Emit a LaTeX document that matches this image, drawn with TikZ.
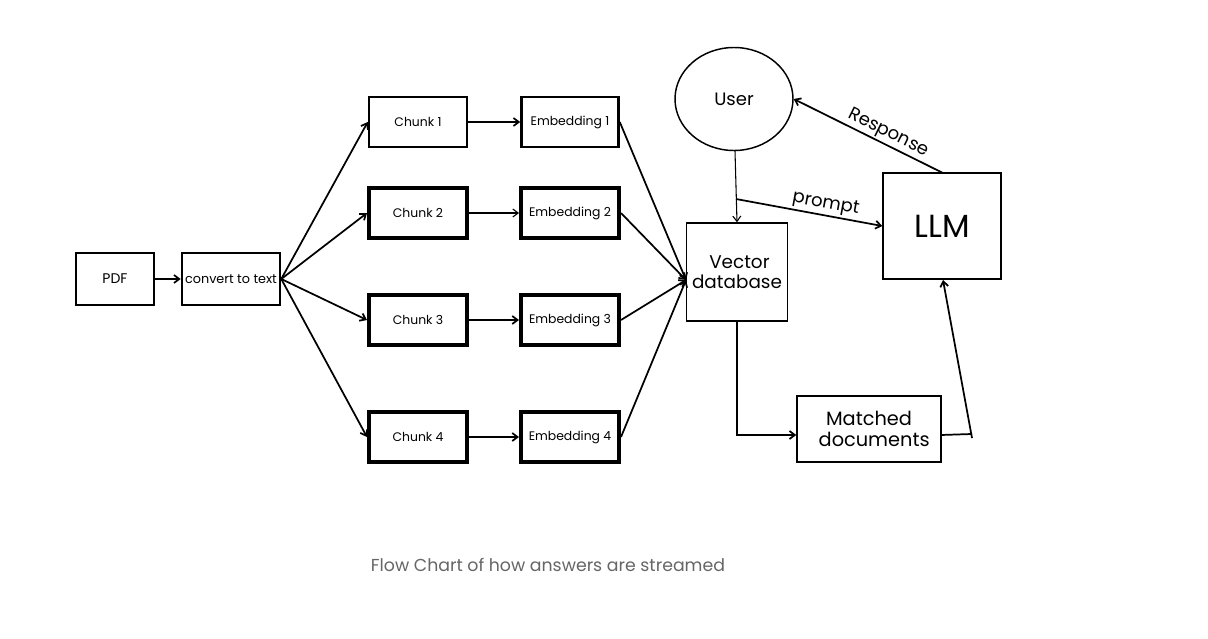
\documentclass[tikz,border=0pt]{standalone}
\usepackage{fontspec}
\setmainfont{Poppins}
\usetikzlibrary{arrows.meta,shapes.geometric}
\begin{document}
\begin{tikzpicture}[x=0.75pt,y=-0.75pt,
  box/.style={draw, line width=1.1pt, inner sep=0pt, font=\fontsize{9.3}{11}\selectfont},
  medbox/.style={box, line width=1.9pt},
  thickbox/.style={box, line width=3pt},
  conn/.style={line width=1.3pt, -{Straight Barb[length=4pt,width=6pt]}},
  thinconn/.style={line width=0.8pt, -{Straight Barb[length=4pt,width=6pt]}},
  lbl/.style={font=\fontsize{13.5}{15}\selectfont, inner sep=0pt, outer sep=2pt}
]
\useasboundingbox (0,0) rectangle (1208,639);
\fill[white] (0,0) rectangle (1208,639);

\node[box, minimum width=78*0.75pt, minimum height=52*0.75pt, font=\fontsize{10.5}{12}\selectfont] (pdf) at (115,279) {PDF};
\node[medbox, minimum width=98*0.75pt, minimum height=52*0.75pt, font=\fontsize{9.6}{11}\selectfont] (conv) at (231,279) {convert to text};

\node[medbox, minimum width=98*0.75pt, minimum height=50*0.75pt] (c1) at (418,122) {Chunk 1};
\node[medbox, minimum width=97*0.75pt, minimum height=50*0.75pt] (e1) at (570,122) {Embedding 1};
\node[thickbox, minimum width=98*0.75pt, minimum height=50*0.75pt] (c2) at (418,213) {Chunk 2};
\node[thickbox, minimum width=98*0.75pt, minimum height=50*0.75pt] (e2) at (570,213) {Embedding 2};
\node[thickbox, minimum width=98*0.75pt, minimum height=50*0.75pt] (c3) at (418,320) {Chunk 3};
\node[thickbox, minimum width=98*0.75pt, minimum height=50*0.75pt] (e3) at (570,320) {Embedding 3};
\node[thickbox, minimum width=98*0.75pt, minimum height=50*0.75pt] (c4) at (418,437) {Chunk 4};
\node[thickbox, minimum width=98*0.75pt, minimum height=50*0.75pt] (e4) at (570,437) {Embedding 4};

\node[draw, ellipse, line width=1.1pt, minimum width=118*0.75pt, minimum height=103*0.75pt, inner sep=0pt, font=\fontsize{13.5}{15}\selectfont] (user) at (734,99) {User};
\node[box, minimum width=101*0.75pt, minimum height=98*0.75pt, align=center, font=\fontsize{13.8}{15}\selectfont] (vdb) at (737,272) {\ Vector\\database};
\node[box, minimum width=118*0.75pt, minimum height=106*0.75pt, font=\fontsize{24}{26}\selectfont] (llm) at (942,226) {LLM};
\node[box, minimum width=144*0.75pt, minimum height=66*0.75pt, align=center, font=\fontsize{14.5}{16}\selectfont] (md) at (869,429) {Matched\\\ \ documents};

\node[font=\fontsize{13}{15}\selectfont, text=black!60, inner sep=0pt] (cap) at (548,565) {Flow Chart of how answers are streamed};

\draw[conn] (pdf.east) -- (conv.west);
\foreach \c in {c1,c2,c3,c4} \draw[conn] (conv.east) -- (\c.west);
\draw[conn] (c1) -- (e1);
\draw[thinconn] (c2) -- (e2);
\draw[conn] (c3) -- (e3);
\draw[conn] (c4) -- (e4);
\coordinate (vin) at (686,280);
\foreach \e in {e1,e2,e3,e4} \draw[conn] (\e.east) -- (vin);

\coordinate (ub) at (735,151);
\coordinate (split) at (736,199);
\draw[thinconn] (ub) -- (vdb.north);
\draw[conn] (split) -- node[lbl, sloped, above, pos=0.6] {prompt} (llm.west);
\coordinate (lt) at (943,173);
\draw[conn] (lt) -- node[lbl, sloped, above, pos=0.4] {Response} (user.east);

\coordinate (vb) at (737,435);
\draw[conn] (vdb.south) -- (vb) -- (md.west |- vb);
\coordinate (mr) at (972,434);
\coordinate (lb) at (943,280);
\draw[line width=1.3pt] (941,435) -- (mr);
\draw[conn] (972,438) -- (lb);
\end{tikzpicture}
\end{document}
